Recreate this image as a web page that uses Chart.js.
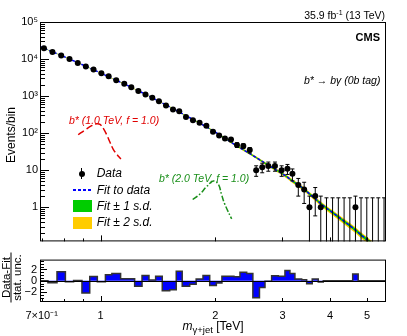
<!DOCTYPE html>
<html>
<head>
<meta charset="utf-8">
<script src="https://cdn.jsdelivr.net/npm/chart.js@4.4.1/dist/chart.umd.min.js"></script>
<style>
  html, body { margin:0; padding:0; background:#fff; }
  body { width:407px; height:336px; position:relative; overflow:hidden;
         font-family:'Liberation Sans', Arial, Helvetica, sans-serif; color:#000; }
  .panel { position:absolute; left:0; width:407px; }
  .t { position:absolute; white-space:nowrap; line-height:1; }
  .it { font-style:italic; }
  .rot { position:absolute; transform:rotate(-90deg); text-align:center; white-space:nowrap; }
</style>
</head>
<body>
<div class="panel" style="top:0;height:250px"><canvas id="mainChart"></canvas></div>
<div class="panel" style="top:250px;height:86px"><canvas id="pullChart"></canvas></div>

<!-- header / labels -->
<div class="t" style="right:22px;top:8.6px;font-size:10.5px">35.9 fb<sup style="font-size:7px;vertical-align:4px">-1</sup> (13 TeV)</div>
<div class="t" style="right:27px;top:31.6px;font-size:11px;font-weight:bold">CMS</div>
<div class="t it" style="left:304px;top:74.9px;font-size:10.5px">b* → bγ (0b tag)</div>
<div class="t it" style="left:69px;top:115.4px;font-size:10.5px;color:#e00000">b* (1.0 TeV, f = 1.0)</div>
<div class="t it" style="left:159px;top:172.9px;font-size:10.5px;color:#1a8f1a">b* (2.0 TeV, f = 1.0)</div>

<!-- legend -->
<div style="position:absolute;left:81.2px;top:168px;width:1px;height:11px;background:#000"></div>
<div style="position:absolute;left:78.7px;top:170.5px;width:6px;height:6px;border-radius:50%;background:#000"></div>
<div style="position:absolute;left:73px;top:189.3px;width:18px;height:1.5px;background:repeating-linear-gradient(90deg,#0000ff 0 3px,transparent 3px 5px)"></div>
<div style="position:absolute;left:73px;top:200px;width:19px;height:12px;background:#00cc00"></div>
<div style="position:absolute;left:73px;top:216.5px;width:19px;height:12.5px;background:#ffcc00"></div>
<div class="t it" style="left:96.7px;top:167.4px;font-size:12px">Data</div>
<div class="t it" style="left:96.7px;top:184.1px;font-size:12px">Fit to data</div>
<div class="t it" style="left:96.7px;top:199.9px;font-size:12px">Fit ± 1 s.d.</div>
<div class="t it" style="left:96.7px;top:215.9px;font-size:12px">Fit ± 2 s.d.</div>

<!-- axis titles -->
<div class="rot" style="left:-39px;top:128px;width:100px;height:14px;line-height:14px;font-size:12px">Events/bin</div>
<div class="rot" style="left:-14px;top:266.5px;width:50px;height:21px;font-size:11.5px">
  <div style="height:10px;line-height:10px;border-bottom:1px solid #000">Data-Fit</div>
  <div style="height:10px;line-height:10px">stat. unc.</div>
</div>
<div class="t" style="left:40px;width:346px;top:320px;text-align:center;font-size:12px"><i>m</i><span style="font-size:9.5px;position:relative;top:3px">γ+jet</span> [TeV]</div>

<script>
// bin edges of the mass spectrum (TeV)
const binEdges = [0.693, 0.727, 0.768, 0.808, 0.849, 0.893, 0.936, 0.980, 1.029, 1.070,
  1.128, 1.179, 1.228, 1.284, 1.339, 1.394, 1.451, 1.518, 1.579, 1.637,
  1.713, 1.781, 1.856, 1.933, 2.012, 2.081, 2.159, 2.238, 2.321, 2.417,
  2.509, 2.611, 2.700, 2.810, 2.926, 3.046, 3.139, 3.235, 3.370, 3.473,
  3.592, 3.725, 3.840, 3.991, 4.134, 4.279, 4.431, 4.587, 4.742, 4.908,
  5.084, 5.263, 5.448, 5.642];

// observed events per bin
const dataCounts = [19450, 15550, 12440, 10000, 7860, 6290, 5250, 4120, 3440, 2700,
  2160, 1740, 1370, 1110, 897, 731, 554, 435, 393, 273,
  224, 190, 159, 109, 87, 72, 67, 48, 45, 35,
  10, 12, 13, 13, 10, 11, 8, 4, 3, 1,
  2, 1, 0, 0, 0, 0, 0, 1, 0, 0,
  0, 0, 0];
const emptyBinUpper = 1.8;

// fit curve: first value at the low edge, then one per bin centre
const fitValues = [21900, 19600, 15650, 12500, 10000, 8000, 6400, 5130, 4120, 3310,
  2660, 2140, 1725, 1390, 1120, 900, 722, 580, 465, 372,
  297, 236, 187, 148, 117, 92, 72, 57, 45, 35.5,
  28, 22, 17.3, 13.6, 10.6, 8.3, 6.5, 5.1, 4.0, 3.1,
  2.3, 1.7, 1.25, 0.95, 0.72, 0.55, 0.42, 0.32, 0.245, 0.18,
  0.135, 0.1, 0.074, 0.055];
// relative 1 s.d. width of the fit band
const fitRelUnc = [0.01, 0.01, 0.01, 0.01, 0.01, 0.01, 0.01, 0.01, 0.01, 0.01,
  0.01, 0.01, 0.01, 0.01, 0.01, 0.01, 0.011, 0.012, 0.013, 0.014,
  0.015, 0.017, 0.019, 0.021, 0.023, 0.025, 0.027, 0.029, 0.031, 0.033,
  0.035, 0.038, 0.041, 0.044, 0.047, 0.05, 0.053, 0.056, 0.059, 0.062,
  0.065, 0.068, 0.071, 0.074, 0.077, 0.08, 0.083, 0.086, 0.089, 0.092,
  0.095, 0.098, 0.1, 0.1];

// (data - fit) / stat. unc. per bin
const pullValues = [0, -0.35, 1.6, -0.15, 0.05, -2.15, 0.75, -0.15, 1.05, 1.3,
  0.35, 0.35, -0.95, 0.95, 0.15, 0.8, -1.75, -1.6, 1.7, -0.95,
  -0.6, 0.3, 0.95, -0.85, -0.4, 0.8, 0.8, 0.7, 1.5, 1.3,
  -3.0, -1.2, -0.1, 0.9, 0.8, 1.8, 1.3, 0.3, 0.2, -0.5,
  0.3, -0.2, 0, 0, 0, 0, 0, 1.2, 0, 0,
  0, 0, 0];

// signal shapes
const sigLowMass = [0.873, 0.910, 0.947, 0.976, 0.996, 1.016, 1.037, 1.058, 1.079, 1.102, 1.130];
const sigLowVals = [90.6, 122, 159, 179, 172, 135, 90.6, 56.9, 36.6, 27.1, 20.0];
const sigHighMass = [1.744, 1.822, 1.897, 1.975, 2.036, 2.077, 2.118, 2.207];
const sigHighVals = [1.62, 2.28, 3.61, 5.10, 4.18, 2.19, 1.20, 0.485];

// axes
const xRange = [0.693, 5.61];
const yRange = [0.12, 1e5];
const pullRange = [-3.75, 3.75];
const xTickMarks = [0.7, 0.8, 0.9, 1, 2, 3, 4, 5];
const xLabelValues = [0.7, 1, 2, 3, 4, 5];
const xLabels = ['7×10⁻¹', '1', '2', '3', '4', '5'];
const yLabelValues = [1, 10, 100, 1000, 10000, 100000];
const yLabels = ['1', '10', '10²', '10³', '10⁴', '10⁵'];
const pullLabelValues = [-2, 0, 2];
const pullLabels = ['−2', '0', '2'];

const FONT = "'Liberation Sans', Arial, Helvetica, sans-serif";
const binCenters = dataCounts.map((_, i) => Math.sqrt(binEdges[i] * binEdges[i + 1]));
const fitMass = [binEdges[0], ...binCenters];

// log tick marks for the event axis
const yTickMarks = [];
for (let k = -1; k <= 5; k++) {
  for (let d = 1; d <= 9; d++) {
    const v = d * Math.pow(10, k);
    if (v >= yRange[0] && v <= yRange[1]) yTickMarks.push({v: v, len: d === 1 ? 9 : 5});
  }
}
const pullTickMarks = [];
for (let v = -3.5; v <= 3.5; v += 0.5) pullTickMarks.push({v: v, len: v % 2 === 0 ? 7 : 4});
const xMarks = xTickMarks.map(v => ({v: v, len: v === 1 ? 6 : (Number.isInteger(v) ? 4 : 3)}));

// ROOT-like frame with inward ticks
const frameTicks = {
  id: 'frameTicks',
  afterDraw(chart, args, opts) {
    const {ctx, chartArea: a, scales} = chart;
    ctx.save();
    ctx.strokeStyle = '#000';
    ctx.lineWidth = 1;
    if (opts.zeroLine) {
      const py = Math.round(scales.y.getPixelForValue(0)) + 0.5;
      ctx.beginPath(); ctx.moveTo(a.left, py); ctx.lineTo(a.right, py); ctx.stroke();
    }
    ctx.beginPath();
    opts.x.forEach(t => {
      const p = Math.round(scales.x.getPixelForValue(t.v)) + 0.5;
      ctx.moveTo(p, a.bottom); ctx.lineTo(p, a.bottom - t.len);
    });
    opts.y.forEach(t => {
      const p = Math.round(scales.y.getPixelForValue(t.v)) + 0.5;
      ctx.moveTo(a.left, p); ctx.lineTo(a.left + t.len, p);
    });
    ctx.stroke();
    ctx.strokeRect(a.left + 0.5, a.top + 0.5, a.right - a.left - 1, a.bottom - a.top - 1);
    ctx.restore();
  }
};

// sqrt(N) error bars on the data
const errorBars = {
  id: 'errorBars',
  afterDatasetsDraw(chart) {
    const {ctx, chartArea: a, scales: {x, y}} = chart;
    ctx.save();
    ctx.beginPath();
    ctx.rect(a.left, a.top, a.right - a.left, a.bottom - a.top);
    ctx.clip();
    ctx.strokeStyle = '#000';
    ctx.lineWidth = 1;
    binCenters.forEach((m, i) => {
      const n = dataCounts[i];
      const hi = n > 0 ? n + Math.sqrt(n) : emptyBinUpper;
      const lo = n - Math.sqrt(n);
      const px = x.getPixelForValue(m);
      const yTop = y.getPixelForValue(hi);
      const yBot = lo > 0 ? y.getPixelForValue(lo) : a.bottom + 2;
      ctx.beginPath();
      ctx.moveTo(px, yTop); ctx.lineTo(px, yBot);
      ctx.moveTo(px - 2, yTop); ctx.lineTo(px + 2, yTop);
      if (lo > 0) { ctx.moveTo(px - 2, yBot); ctx.lineTo(px + 2, yBot); }
      ctx.stroke();
    });
    ctx.restore();
  }
};

const band = (k, sign) => fitMass.map((m, i) => ({x: m, y: fitValues[i] * (1 + sign * k * fitRelUnc[i])}));
const tickFont = {family: FONT, size: 11};

new Chart(document.getElementById('mainChart'), {
  type: 'line',
  data: {
    datasets: [
      {label: 'Data', data: binCenters.map((m, i) => ({x: m, y: dataCounts[i] > 0 ? dataCounts[i] : null})),
       showLine: false, pointRadius: 3, pointBackgroundColor: '#000', pointBorderWidth: 0, borderColor: '#000', order: 0},
      {label: 'b* 1.0 TeV', data: sigLowMass.map((m, i) => ({x: m, y: sigLowVals[i]})),
       borderColor: '#e00000', borderWidth: 1.5, borderDash: [7, 3], pointRadius: 0, tension: 0.4, order: 1},
      {label: 'b* 2.0 TeV', data: sigHighMass.map((m, i) => ({x: m, y: sigHighVals[i]})),
       borderColor: '#1a8f1a', borderWidth: 1.5, borderDash: [6, 2, 1.5, 2], pointRadius: 0, tension: 0.4, order: 1},
      {label: 'Fit to data', data: fitMass.map((m, i) => ({x: m, y: fitValues[i]})),
       borderColor: '#0000ff', borderWidth: 1.5, borderDash: [3, 2], pointRadius: 0, order: 2},
      {label: '1sd up', data: band(1, 1), fill: '+1', backgroundColor: '#00cc00', borderWidth: 0, pointRadius: 0, order: 3},
      {label: '1sd down', data: band(1, -1), fill: false, borderWidth: 0, pointRadius: 0, order: 3},
      {label: '2sd up', data: band(2, 1), fill: '+1', backgroundColor: '#ffcc00', borderWidth: 0, pointRadius: 0, order: 4},
      {label: '2sd down', data: band(2, -1), fill: false, borderWidth: 0, pointRadius: 0, order: 4}
    ]
  },
  options: {
    responsive: true, maintainAspectRatio: false, animation: false, devicePixelRatio: 1,
    layout: {padding: {top: 22, right: 21, left: 0, bottom: 0}},
    plugins: {legend: {display: false}, tooltip: {enabled: false},
      frameTicks: {x: xMarks, y: yTickMarks}},
    scales: {
      x: {type: 'logarithmic', min: xRange[0], max: xRange[1], bounds: 'data',
          grid: {display: false, drawTicks: false}, border: {display: false},
          ticks: {display: false},
          afterFit: s => { s.height = 2; }},
      y: {type: 'logarithmic', min: yRange[0], max: yRange[1], bounds: 'data',
          grid: {display: false, drawTicks: false}, border: {display: false},
          afterBuildTicks: axis => { axis.ticks = yLabelValues.map(v => ({value: v})); },
          ticks: {autoSkip: false, padding: 2, color: '#000', font: tickFont,
                  callback: v => { const i = yLabelValues.indexOf(v); return i < 0 ? '' : yLabels[i]; }},
          afterFit: s => { s.width = 40; }}
    }
  },
  plugins: [errorBars, frameTicks]
});

const pullSteps = binEdges.map((e, i) => ({x: e, y: pullValues[Math.min(i, pullValues.length - 1)]}));

new Chart(document.getElementById('pullChart'), {
  type: 'line',
  data: {
    datasets: [
      {label: 'pull', data: pullSteps, stepped: 'before', fill: 'origin',
       backgroundColor: '#0000ff', borderColor: '#333', borderWidth: 1.5, pointRadius: 0}
    ]
  },
  options: {
    responsive: true, maintainAspectRatio: false, animation: false, devicePixelRatio: 1,
    layout: {padding: {top: 2, right: 21, left: 0, bottom: 0}},
    plugins: {legend: {display: false}, tooltip: {enabled: false},
      frameTicks: {x: xMarks, y: pullTickMarks, zeroLine: true}},
    scales: {
      x: {type: 'logarithmic', min: xRange[0], max: xRange[1], bounds: 'data',
          grid: {display: false, drawTicks: false}, border: {display: false},
          afterBuildTicks: axis => { axis.ticks = xLabelValues.map(v => ({value: v})); },
          ticks: {autoSkip: false, maxRotation: 0, padding: 7, color: '#000', font: tickFont,
                  callback: v => { const i = xLabelValues.indexOf(v); return i < 0 ? '' : xLabels[i]; }},
          afterFit: s => { s.height = 34; }},
      y: {type: 'linear', min: pullRange[0], max: pullRange[1],
          grid: {display: false, drawTicks: false}, border: {display: false},
          afterBuildTicks: axis => { axis.ticks = pullLabelValues.map(v => ({value: v})); },
          ticks: {autoSkip: false, padding: 3, color: '#000', font: tickFont,
                  callback: v => { const i = pullLabelValues.indexOf(v); return i < 0 ? '' : pullLabels[i]; }},
          afterFit: s => { s.width = 40; }}
    }
  },
  plugins: [frameTicks]
});
</script>
</body>
</html>
